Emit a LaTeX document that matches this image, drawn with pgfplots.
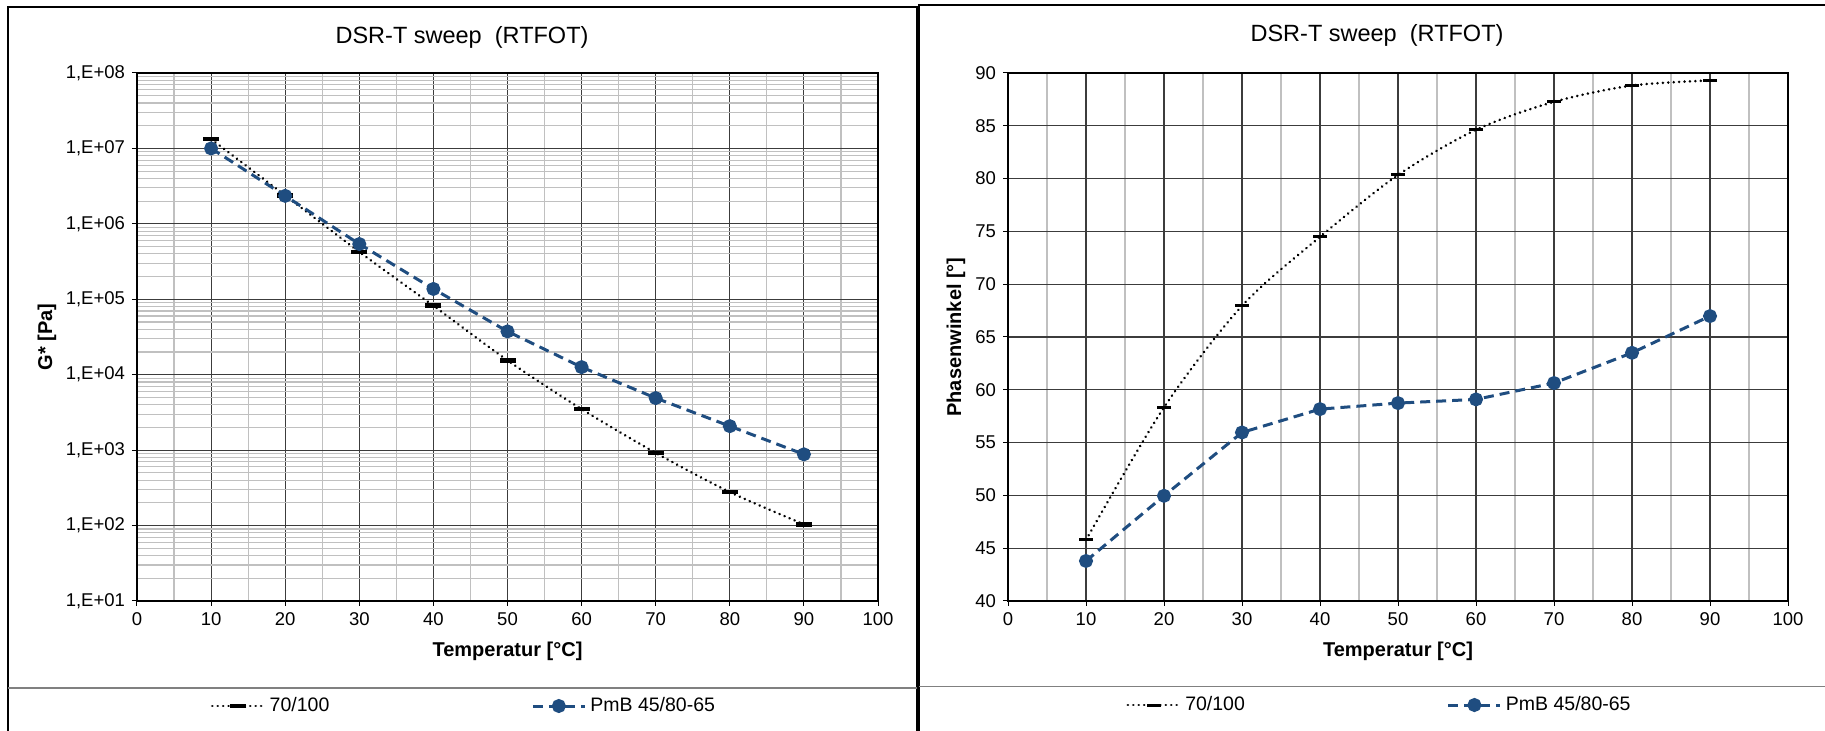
\documentclass[border=0pt]{standalone}
\usepackage{fontspec}
\setmainfont{Liberation Sans}
\usepackage{pgfplots}
\pgfplotsset{compat=1.18}
\definecolor{pmb}{RGB}{31,77,128}
\definecolor{majgrid}{RGB}{60,60,60}
\definecolor{mingrid}{RGB}{192,192,192}
\definecolor{sepgray}{RGB}{128,128,128}

\pgfplotsset{
  commonstyle/.style={
    scale only axis,
    height=264pt,
    xmin=0, xmax=100,
    xtick={0,10,...,100},
    minor xtick={5,15,...,95},
    tick pos=left,
    tick align=outside,
    major tick length=2.5pt,
    minor tick length=0pt,
    tick style={black, line width=0.5pt},
    axis line style={black, line width=0.6pt},
    /pgf/number format/assume math mode=true,
    ticklabel style={font=\fontsize{9.25}{11}\selectfont},
    label style={font=\bfseries\fontsize{10}{12}\selectfont},
    xlabel={Temperatur [°C]},
    xlabel style={at={(axis description cs:0.5,-0.0947)}, anchor=center},
    major grid style={majgrid, line width=0.55pt},
    minor grid style={mingrid, line width=0.6pt},
    legend columns=2,
    legend cell align=left,
    legend style={draw=none, fill=none, anchor=center,
      font=\fontsize{9.75}{12}\selectfont,
      /tikz/every even column/.append style={column sep=99pt}},
  },
  blk/.style={black, line width=1.4pt, dash pattern=on 0.01pt off 2.7pt, line cap=round, smooth},
  blu/.style={pmb, line width=1.5pt, dash pattern=on 5pt off 3pt, mark=*, mark size=2.75pt, mark options={solid, fill=pmb, draw=pmb}},
  legimg/.style={legend image code/.code={\draw[mark repeat=2,mark phase=2,##1] plot coordinates {(0pt,0pt) (13pt,0pt) (26pt,0pt)};}},
}

\begin{document}
\begin{tikzpicture}
\useasboundingbox (0,0) rectangle (912.5pt,365.5pt);
% frames
\draw[black, line width=0.6pt] (4pt,0pt) -- (4pt,362pt) -- (458.5pt,362pt) -- (458.5pt,0pt);
\draw[black, line width=1pt] (459.5pt,0pt) -- (459.5pt,362.75pt) -- (912.5pt,362.75pt);
\draw[sepgray, line width=0.8pt] (4pt,21.5pt) -- (458.5pt,21.5pt);
\draw[sepgray, line width=0.8pt] (459.5pt,22.15pt) -- (912.5pt,22.15pt);
% titles
\node[font=\fontsize{11.75}{14}\selectfont] at (231pt,347pt) {DSR-T sweep\ \ (RTFOT)};
\node[font=\fontsize{11.75}{14}\selectfont] at (688.5pt,348pt) {DSR-T sweep\ \ (RTFOT)};

\begin{axis}[commonstyle,
  at={(68.5pt,65pt)}, anchor=south west,
  width=370.5pt,
  ymode=log, ymin=1e1, ymax=1e8,
  ytick={1e1,1e2,1e3,1e4,1e5,1e6,1e7,1e8},
  yticklabels={{1,E+01},{1,E+02},{1,E+03},{1,E+04},{1,E+05},{1,E+06},{1,E+07},{1,E+08}},
  minor ytick={2e1,3e1,4e1,5e1,6e1,7e1,8e1,9e1,
               2e2,3e2,4e2,5e2,6e2,7e2,8e2,9e2,
               2e3,3e3,4e3,5e3,6e3,7e3,8e3,9e3,
               2e4,3e4,4e4,5e4,6e4,7e4,8e4,9e4,
               2e5,3e5,4e5,5e5,6e5,7e5,8e5,9e5,
               2e6,3e6,4e6,5e6,6e6,7e6,8e6,9e6,
               2e7,3e7,4e7,5e7,6e7,7e7,8e7,9e7},
  grid=both,
  ylabel={G* [Pa]},
  ylabel style={at={(axis description cs:-0.1215,0.5)}, anchor=center},
  legend style={at={(axis description cs:0.4426,-0.1989)}},
]
\addplot[blk, legimg, mark=-, mark size=4pt, mark options={solid, line width=2.3pt, line cap=butt}] coordinates {
(10,1.33e7) (20,2.38e6) (30,4.25e5) (40,8.2e4) (50,1.55e4) (60,3.5e3) (70,920) (80,278) (90,104)};
\addlegendentry{70/100}
\addplot[blu, legimg] coordinates {
(10,1.0e7) (20,2.35e6) (30,5.4e5) (40,1.37e5) (50,3.75e4) (60,1.26e4) (70,4.9e3) (80,2.08e3) (90,880)};
\addlegendentry{PmB 45/80-65}
\end{axis}

\begin{axis}[commonstyle,
  at={(504pt,65pt)}, anchor=south west,
  width=390pt,
  ymin=40, ymax=90,
  ytick={40,45,...,90},
  grid=both,
  ylabel={Phasenwinkel [°]},
  ylabel style={at={(axis description cs:-0.0667,0.5)}, anchor=center},
  legend style={at={(axis description cs:0.4776,-0.197)}},
]
\addplot[blk, legimg, mark=-, mark size=3.6pt, mark options={solid, line width=1.5pt, line cap=butt}] coordinates {
(10,45.78) (20,58.34) (30,67.95) (40,74.48) (50,80.34) (60,84.62) (70,87.27) (80,88.81) (90,89.29)};
\addlegendentry{70/100}
\addplot[blu, legimg] coordinates {
(10,43.79) (20,49.96) (30,55.96) (40,58.17) (50,58.74) (60,59.09) (70,60.64) (80,63.5) (90,66.98)};
\addlegendentry{PmB 45/80-65}
\end{axis}
\end{tikzpicture}
\end{document}
